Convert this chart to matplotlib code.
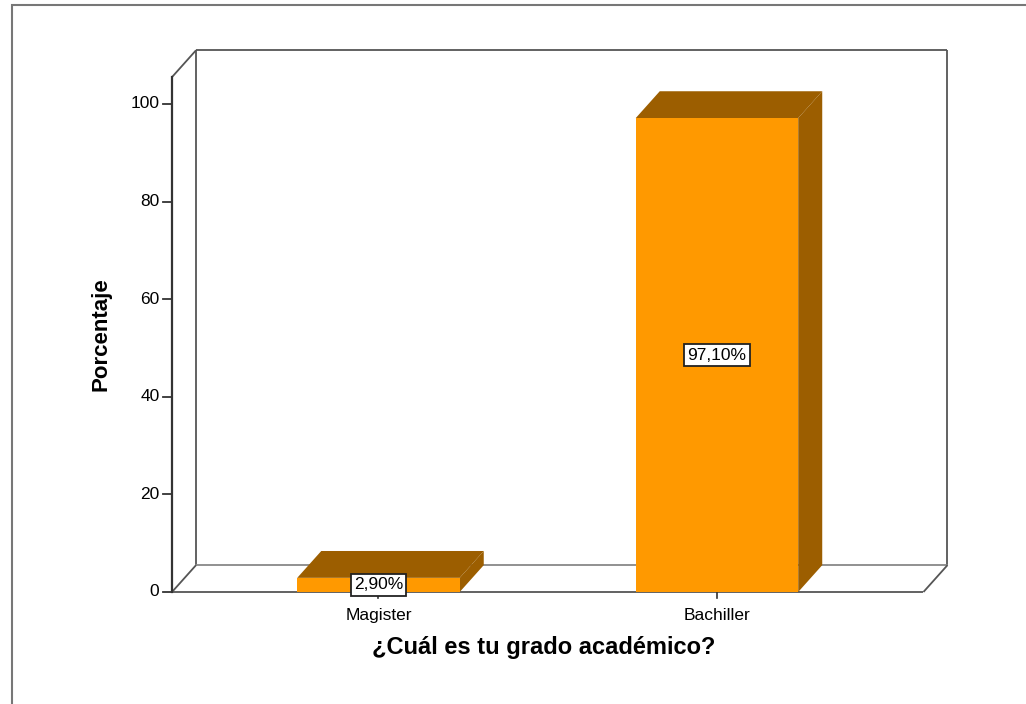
import matplotlib.pyplot as plt
from matplotlib.patches import Polygon, Rectangle

plt.rcParams['font.family'] = ['Liberation Sans', 'DejaVu Sans']

# datos
categorias = ['Magister', 'Bachiller']
porcentajes = [2.90, 97.10]
etiquetas = ['2,90%', '97,10%']
yticks = [0, 20, 40, 60, 80, 100]

FRENTE = '#FF9900'
OSCURO = '#9C5E00'
GRIS = '#555555'

ancho = 0.48       # ancho de barra
dx, dy = 0.071, 5.5  # profundidad 3D
x0, x1 = -0.61, 1.61
ytop = 105.5

fig = plt.figure(figsize=(10.26, 7.04), dpi=100)
ax = fig.add_axes([150 / 1026, 94 / 704, 810 / 1026, 570 / 704])
ax.set_xlim(-0.675, 1.718)
ax.set_ylim(-3.69, 113.1)
ax.axis('off')

# marco exterior
fig.add_artist(Rectangle((12 / 1026, -0.1), 1.2, (704 - 5) / 704 + 0.1,
                         transform=fig.transFigure, fill=False,
                         edgecolor='#777777', lw=1.5))

# pared y piso
lc = dict(color=GRIS, lw=1.3, solid_capstyle='butt')
ax.plot([x0 + dx, x0 + dx], [dy, ytop + dy], **lc)
ax.plot([x0 + dx, x1 + dx], [ytop + dy, ytop + dy], **lc)
ax.plot([x1 + dx, x1 + dx], [ytop + dy, dy], **lc)
ax.plot([x0 + dx, x1 + dx], [dy, dy], color='#888888', lw=1.3)
ax.plot([x0, x0 + dx], [ytop, ytop + dy], **lc)
ax.plot([x0, x0 + dx], [0, dy], **lc)
ax.plot([x1, x1 + dx], [0, dy], **lc)
ax.plot([x0, x1], [0, 0], **lc)
ax.plot([x0, x0], [0, ytop], color='#333333', lw=1.6)

# ticks eje y
for t in yticks:
    ax.plot([x0 - 0.027, x0], [t, t], color='#333333', lw=1.3)
    ax.text(x0 - 0.037, t, str(t), ha='right', va='center', fontsize=12.5)

# barras 3D
for i, (cat, v, lab) in enumerate(zip(categorias, porcentajes, etiquetas)):
    l, r = i - ancho / 2, i + ancho / 2
    ax.add_patch(Polygon([(r, 0), (r + dx, dy), (r + dx, v + dy), (r, v)],
                         closed=True, facecolor=OSCURO, edgecolor='none', zorder=3))
    ax.add_patch(Polygon([(l, v), (l + dx, v + dy), (r + dx, v + dy), (r, v)],
                         closed=True, facecolor=OSCURO, edgecolor='none', zorder=3))
    ax.add_patch(Rectangle((l, 0), ancho, v, facecolor=FRENTE, edgecolor='none', zorder=4))
    ax.text(i, v / 2, lab, ha='center', va='center', fontsize=12.5, zorder=6,
            bbox=dict(boxstyle='square,pad=0.18', facecolor='white',
                      edgecolor='#222222', lw=1.3))
    ax.plot([i, i], [0, -1.3], color='#333333', lw=1.2)
    ax.text(i, -3.2, cat, ha='center', va='top', fontsize=12.5)

ax.text(-0.82, 52.9, 'Porcentaje', rotation=90, ha='center', va='center',
        fontsize=16, fontweight='bold')
ax.text(0.487, -11.4, '¿Cuál es tu grado académico?', ha='center', va='center',
        fontsize=17, fontweight='bold')

fig.savefig('out.png', dpi=100)
